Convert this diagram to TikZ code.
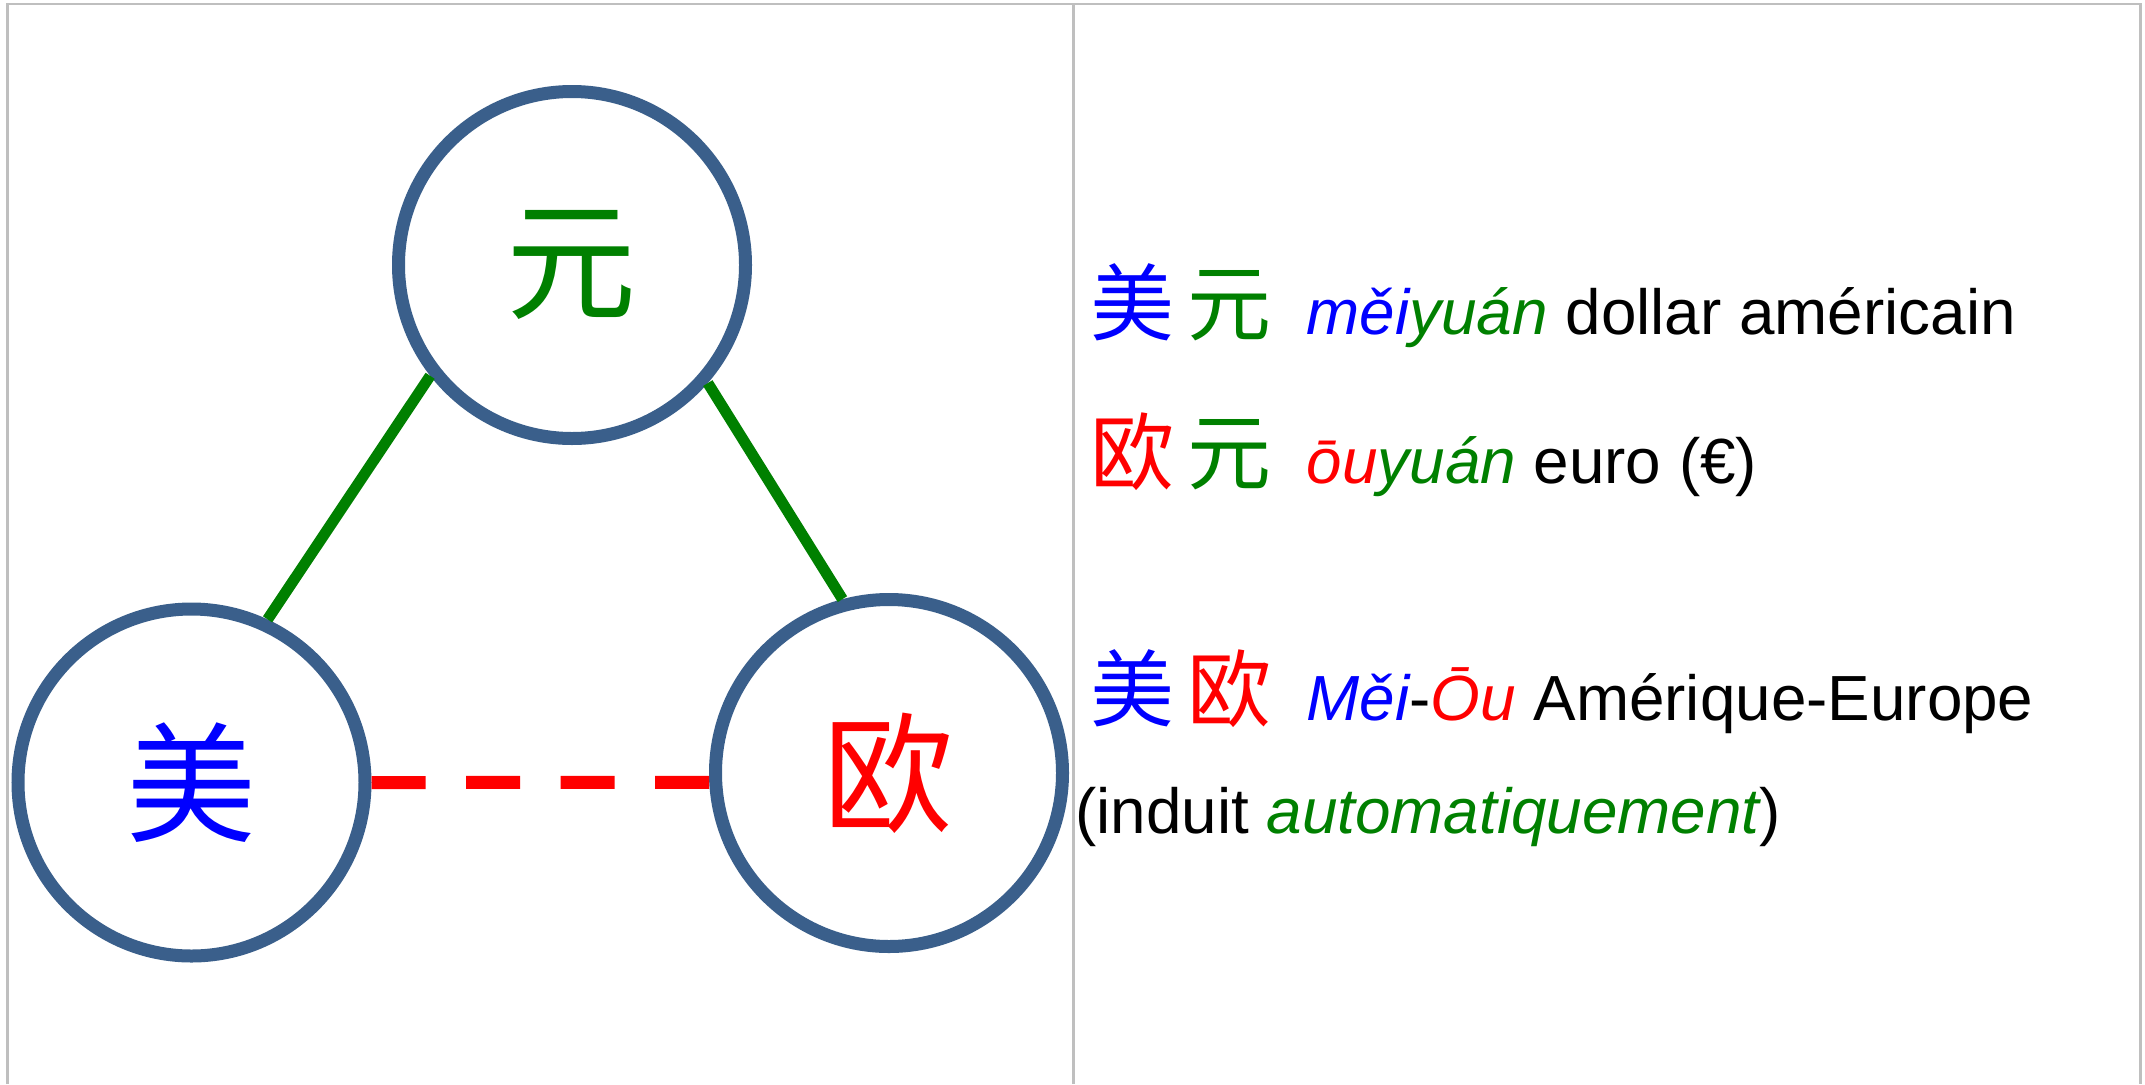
\documentclass[tikz,border=0pt]{standalone}
\usepackage{fontspec}
\setmainfont{Liberation Sans}
\newfontfamily\cjk{Noto Sans CJK SC}
\usepackage{xcolor}
\usepackage{tikz}
\definecolor{ringblue}{RGB}{58,95,139}
\definecolor{rulegray}{RGB}{191,191,191}
\definecolor{pyblue}{RGB}{0,0,255}
\definecolor{pygreen}{RGB}{0,128,0}
\definecolor{pyred}{RGB}{255,0,0}
\newcommand{\hanzi}[2]{{\cjk\fontsize{23.9}{24}\selectfont\color{#1}#2}}

\begin{document}
\begin{tikzpicture}
\tikzstyle{hz}=[draw=ringblue,line width=0.13cm,shape=circle,minimum size=3.47cm,inner sep=0pt,font=\cjk\fontsize{37}{37}\selectfont]
\tikzstyle{gloss}=[anchor=base west,inner sep=0pt,font=\fontsize{18.15}{22}\selectfont]
\tikzstyle{link}=[draw=pygreen,line width=0.11cm]
\tikzstyle{dlink}=[draw=pyred,line width=0.13cm,dash pattern=on 0.54cm off 0.405cm]
\tikzstyle{rule}=[draw=rulegray,line width=0.028cm]
%
\useasboundingbox (0,0) rectangle (21.45,10.84);
%
\draw[rule] (0.072,0) -- (0.072,10.80) -- (21.403,10.80) -- (21.403,0);
\draw[rule] (10.733,0) -- (10.733,10.80);
%
\node[hz,text=pygreen](yuan) at (5.72,8.19){元};
\node[hz,text=pyblue](mei) at (1.915,3.015){美};
\node[hz,text=pyred](ou) at (8.89,3.11){欧};
%
\draw[link] (yuan.218.5) -- (mei.65.2);
\draw[link] (yuan.319.3) -- (ou.105.5);
\draw[dlink] (mei.east) -- (ou.183);
%
\node[gloss](r1) at (10.90,7.50){\hanzi{pyblue}{美}\hspace{0.13cm}\hanzi{pygreen}{元}\hspace{0.35cm}\textit{\color{pyblue}měi\color{pygreen}yuán} dollar américain};
\node[gloss](r2) at (10.90,6.01){\hanzi{pyred}{欧}\hspace{0.13cm}\hanzi{pygreen}{元}\hspace{0.35cm}\textit{\color{pyred}ōu\color{pygreen}yuán} euro (€)};
\node[gloss](r3) at (10.90,3.64){\hanzi{pyblue}{美}\hspace{0.13cm}\hanzi{pyred}{欧}\hspace{0.35cm}\textit{\color{pyblue}Měi}-\textit{\color{pyred}Ōu} Amérique-Europe};
\node[gloss](r4) at (10.745,2.51){(induit \textit{\color{pygreen}automatiquement})};
\end{tikzpicture}
\end{document}
